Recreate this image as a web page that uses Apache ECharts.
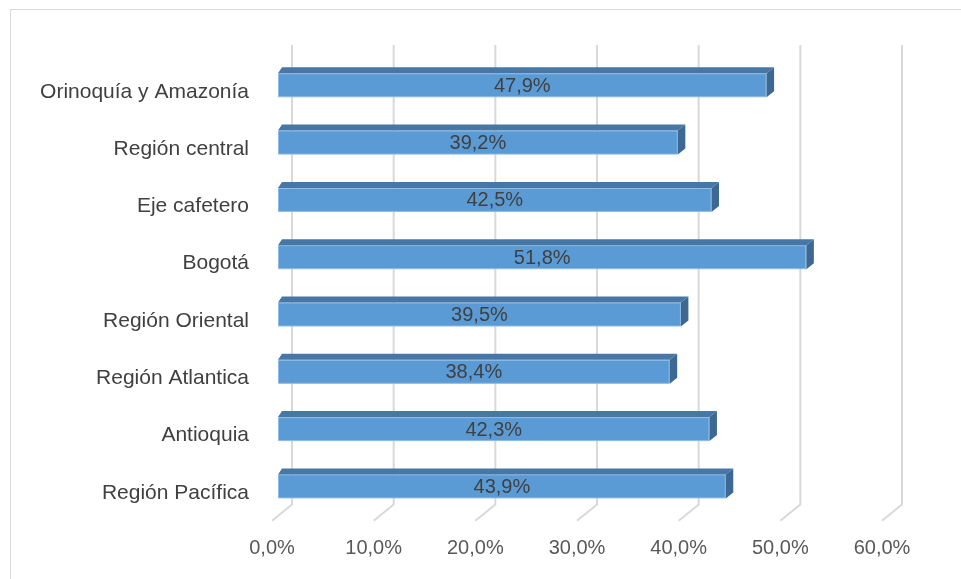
<!DOCTYPE html>
<html>
<head>
<meta charset="utf-8">
<script src="https://cdn.jsdelivr.net/npm/echarts@6/dist/echarts.min.js"></script>
<style>
html,body{margin:0;padding:0;background:#fff;}
#c{width:961px;height:579px;}
</style>
</head>
<body>
<div id="c"></div>
<script>
var categories = ['Orinoquía y Amazonía','Región central','Eje cafetero','Bogotá','Región Oriental','Región Atlantica','Antioquia','Región Pacífica'];
var values = [47.9, 39.2, 42.5, 51.8, 39.5, 38.4, 42.3, 43.9];
var tickValues = [0, 10, 20, 30, 40, 50, 60];

function pct(v){ return v.toFixed(1).replace('.', ',') + '%'; }

var chart = echarts.init(document.getElementById('c'), null, {renderer:'canvas'});
var FONT = 'Liberation Sans';
var BAR_H = 24;

chart.setOption({
  animation: false,
  backgroundColor: '#ffffff',
  graphic: [{
    type: 'rect', shape: {x: 10.5, y: 9.5, width: 960, height: 580},
    style: {fill: 'none', stroke: '#d9d9d9', lineWidth: 1}, z: 0
  }],
  grid: [
    {left: 278, width: 612, top: 56.65, height: 458.4},
    {left: 272, width: 610, top: 510, height: 10.7}
  ],
  xAxis: [
    {gridIndex: 0, type: 'value', min: 0, max: 60, interval: 10,
     axisLine: {show: false}, axisTick: {show: false}, splitLine: {show: false}, axisLabel: {show: false}},
    {gridIndex: 1, type: 'value', min: 0, max: 60, interval: 10,
     axisLine: {show: false}, axisTick: {show: false}, splitLine: {show: false},
     axisLabel: {show: true, margin: 18, color: '#595959', fontFamily: FONT, fontSize: 20,
       formatter: function(v){ return pct(v); }}}
  ],
  yAxis: [
    {gridIndex: 0, type: 'category', data: categories, inverse: true,
     axisLine: {show: false}, axisTick: {show: false}, splitLine: {show: false},
     axisLabel: {margin: 29, color: '#404040', fontFamily: FONT, fontSize: 21,
       formatter: function(v){ return '{a|' + v + '}'; },
       rich: {a: {color: '#404040', fontFamily: FONT, fontSize: 21, lineHeight: 22, padding: [13, 0, 0, 0]}}}},
    {gridIndex: 1, type: 'value', show: false}
  ],
  series: [
    {
      type: 'custom', name: 'grid', xAxisIndex: 0, yAxisIndex: 0, z: 1, silent: true,
      data: tickValues.map(function(v){ return [v, 0]; }),
      renderItem: function(params, api){
        var p = api.coord([api.value(0), 0]);
        var bx = 292 + (p[0] - 278) * 610 / 612;
        return {
          type: 'polyline',
          shape: {points: [[bx, 45], [bx, 504.5], [bx - 20, 520.7]]},
          style: {stroke: '#d9d9d9', lineWidth: 2, fill: 'none'}
        };
      }
    },
    {
      type: 'bar', name: 'front', xAxisIndex: 0, yAxisIndex: 0, z: 2,
      data: values, barWidth: BAR_H,
      itemStyle: {color: '#5b9bd5', borderColor: '#8db9e3', borderWidth: 1},
      label: {show: true, position: 'inside', offset: [0, 1], color: '#404040', fontFamily: FONT, fontSize: 20,
        formatter: function(p){ return pct(p.value); }}
    },
    {
      type: 'custom', name: 'depth', xAxisIndex: 0, yAxisIndex: 0, z: 3, silent: true,
      data: values.map(function(v, i){ return [v, i]; }),
      renderItem: function(params, api){
        var idx = api.value(1);
        var p0 = api.coord([0, idx]);
        var p1 = api.coord([api.value(0), idx]);
        var x0 = p0[0], x1 = p1[0];
        var yT = p1[1] - BAR_H / 2, yB = p1[1] + BAR_H / 2;
        var dy = -6, dxL = 4, dxR = 7.5;
        return {
          type: 'group',
          children: [
            {type: 'polygon', shape: {points: [[x0, yT], [x0 + dxL, yT + dy], [x1 + dxR, yT + dy], [x1, yT]]},
             style: {fill: '#4677a6'}},
            {type: 'polygon', shape: {points: [[x1, yT], [x1 + dxR, yT + dy], [x1 + dxR, yB + dy], [x1, yB]]},
             style: {fill: '#3d6893'}}
          ]
        };
      }
    }
  ]
});
</script>
</body>
</html>
